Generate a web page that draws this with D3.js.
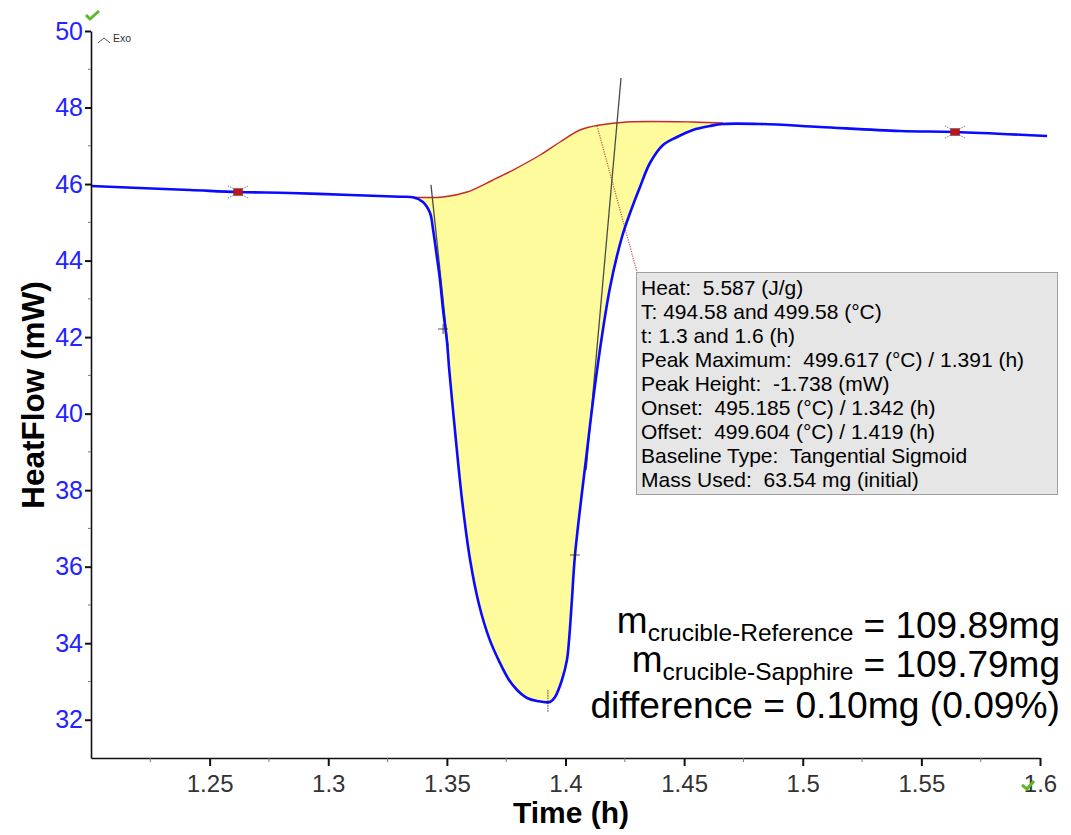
<!DOCTYPE html>
<html><head><meta charset="utf-8">
<script src="https://cdn.jsdelivr.net/npm/d3@7"></script>
<style>
html,body{margin:0;padding:0;background:#fff;}
svg{display:block;font-family:"Liberation Sans",Arial,sans-serif;}
</style></head>
<body>
<svg id="chart" width="1071" height="835"></svg>
<script>
// ---- data ----
const xTicks = [1.25, 1.3, 1.35, 1.4, 1.45, 1.5, 1.55, 1.6];
const yTicks = [32, 34, 36, 38, 40, 42, 44, 46, 48, 50];
const heatTime = [1.2000,1.2417,1.2620,1.2839,1.3092,1.3302,1.3357,1.3399,1.3429,1.3442,1.3458,1.3471,1.3484,1.3501,1.3510,1.3534,1.3564,1.3598,1.3636,1.3680,1.3724,1.3760,1.3796,1.3838,1.3880,1.3935,1.3956,1.3985,1.4006,1.4015,1.4027,1.4040,1.4086,1.4133,1.4188,1.4238,1.4272,1.4314,1.4356,1.4411,1.4470,1.4537,1.4609,1.4664,1.4820,1.5073,1.5410,1.5642,1.6030];
const heatFlow = [45.949,45.845,45.792,45.766,45.714,45.670,45.655,45.531,45.243,44.799,44.094,43.492,42.708,41.846,41.140,39.572,37.743,36.174,35.000,34.100,33.480,33.060,32.777,32.568,32.490,32.463,32.594,33.038,33.561,34.084,35.129,36.305,38.788,41.140,43.309,44.616,45.243,45.923,46.550,47.021,47.230,47.413,47.517,47.569,47.569,47.491,47.387,47.360,47.256];
const baseTime = [1.3357,1.3484,1.3585,1.3694,1.3779,1.3893,1.3977,1.4061,1.4145,1.4259,1.4537,1.4664];
const baseFlow = [45.655,45.662,45.792,46.106,46.367,46.759,47.099,47.413,47.543,47.622,47.622,47.596];
const tangentLeft = [[1.3433,45.98],[1.3505,41.75]];
const tangentRight = [[1.4234,48.77],[1.4087,38.53]];
const limitMarks = [[1.2620,45.792],[1.5642,47.360]];
const crossMarks = [[1.3484,42.212],[1.4040,36.305]];
const peakMark = [1.3926,32.46];
const leaderStart = [1.4133,47.52];
const boxLines = ["Heat:  5.587 (J/g)","T: 494.58 and 499.58 (°C)","t: 1.3 and 1.6 (h)","Peak Maximum:  499.617 (°C) / 1.391 (h)","Peak Height:  -1.738 (mW)","Onset:  495.185 (°C) / 1.342 (h)","Offset:  499.604 (°C) / 1.419 (h)","Baseline Type:  Tangential Sigmoid","Mass Used:  63.54 mg (initial)"];
const massLines = [["m","crucible-Reference"," = 109.89mg"],["m","crucible-Sapphire"," = 109.79mg"]];
const diffLine = "difference = 0.10mg (0.09%)";

// ---- scales ----
const svg = d3.select("#chart");
const x = d3.scaleLinear().domain([1.2,1.6]).range([91,1040]);
const y = d3.scaleLinear().domain([31,50]).range([758,31]);

const curve = heatTime.map((t,i)=>[t,heatFlow[i]]);
const base = baseTime.map((t,i)=>[t,baseFlow[i]]);
const line = d3.line().x(d=>x(d[0])).y(d=>y(d[1]));
const smooth = d3.line().x(d=>x(d[0])).y(d=>y(d[1])).curve(d3.curveCatmullRom.alpha(0.5));

// fill
const t0 = baseTime[0], t1 = baseTime[baseTime.length-1];
const sub = curve.filter(d=>d[0]>=t0-1e-9 && d[0]<=t1+1e-9);
const fillPath = smooth(sub) + "L" + smooth(base.slice().reverse()).slice(1) + "Z";
svg.append("path").attr("d",fillPath).attr("fill","#fdfb9b").attr("stroke","none");

// leader dotted line
svg.append("line").attr("x1",x(leaderStart[0])).attr("y1",y(leaderStart[1]))
  .attr("x2",637).attr("y2",272).attr("stroke","#b8583a").attr("stroke-width",1.3)
  .attr("stroke-dasharray","1.2,1.2").attr("opacity",0.9);

// baseline
svg.append("path").attr("d",smooth(base)).attr("fill","none").attr("stroke","#c42a2a").attr("stroke-width",1.4);

// tangents
[tangentLeft,tangentRight].forEach(tg=>{
  svg.append("path").attr("d",line(tg)).attr("fill","none").attr("stroke","#4a4a4a").attr("stroke-width",1.3);
});

// main curve
svg.append("path").attr("d",smooth(curve)).attr("fill","none").attr("stroke","#0a0aff").attr("stroke-width",2.6);

// cross marks
crossMarks.forEach(d=>{
  const cx=x(d[0]), cy=y(d[1]);
  svg.append("path").attr("d",`M${cx-5},${cy}H${cx+5}M${cx},${cy-5}V${cy+5}`).attr("stroke","#222").attr("stroke-width",0.8);
});
{
  const cx=x(peakMark[0]), cy=y(peakMark[1]);
  svg.append("line").attr("x1",cx).attr("x2",cx).attr("y1",cy-12).attr("y2",cy+10)
    .attr("stroke","#222").attr("stroke-width",0.9).attr("stroke-dasharray","1.5,1");
}

// limit marks
limitMarks.forEach(d=>{
  const cx=x(d[0]), cy=y(d[1]);
  const g=svg.append("g");
  g.append("path").attr("d",`M${cx-10},${cy-6}L${cx-4},${cy-3}M${cx+10},${cy-6}L${cx+4},${cy-3}M${cx-10},${cy+6}L${cx-4},${cy+3}M${cx+10},${cy+6}L${cx+4},${cy+3}`)
    .attr("stroke","#555").attr("stroke-width",0.9).attr("stroke-dasharray","1,1");
  g.append("rect").attr("x",cx-4.5).attr("y",cy-3.5).attr("width",9).attr("height",7)
    .attr("fill","#c0141a").attr("stroke","#333").attr("stroke-width",0.8).attr("stroke-dasharray","1,1");
});

// axes
const xAxis = d3.axisBottom(x).tickValues(xTicks).tickSize(8).tickSizeOuter(0).tickPadding(9)
  .tickFormat(d=>String(+d.toFixed(2)));
const gx = svg.append("g").attr("transform","translate(0,758)").call(xAxis);
gx.select(".domain").attr("stroke","#111").attr("stroke-width",1.6);
gx.selectAll(".tick line").attr("stroke","#111").attr("stroke-width",2);
gx.selectAll(".tick text").attr("fill","#333").attr("font-size",24).attr("font-family","Liberation Sans, Arial, sans-serif");
const xMinor = d3.range(1.225,1.6,0.05);
gx.selectAll(".minor").data(xMinor).enter().append("line")
  .attr("x1",d=>x(d)).attr("x2",d=>x(d)).attr("y1",0).attr("y2",4).attr("stroke","#777").attr("stroke-width",1);

const yAxis = d3.axisLeft(y).tickValues(yTicks).tickSize(6).tickSizeOuter(0).tickPadding(2).tickFormat(d3.format("d"));
const gy = svg.append("g").attr("transform","translate(91,0)").call(yAxis);
gy.select(".domain").attr("stroke","#111").attr("stroke-width",1.6);
gy.selectAll(".tick line").attr("stroke","#111").attr("stroke-width",2);
gy.selectAll(".tick text").attr("fill","#2323ff").attr("font-size",25).attr("font-family","Liberation Sans, Arial, sans-serif");
const yMinor = d3.range(33,50,2);
gy.selectAll(".minor").data(yMinor).enter().append("line")
  .attr("x1",-3).attr("x2",0).attr("y1",d=>y(d)).attr("y2",d=>y(d)).attr("stroke","#777").attr("stroke-width",1);

// axis titles
svg.append("text").attr("x",571).attr("y",823).attr("text-anchor","middle")
  .attr("font-weight","bold").attr("font-size",30).attr("fill","#000").text("Time (h)");
svg.append("text").attr("transform","translate(44,395) rotate(-90)").attr("text-anchor","middle")
  .attr("font-weight","bold").attr("font-size",31.5).attr("fill","#000").text("HeatFlow (mW)");

// Exo marker
svg.append("path").attr("d","M98,43L104,38L110,43").attr("fill","none").attr("stroke","#555").attr("stroke-width",1);
svg.append("text").attr("x",113).attr("y",42).attr("font-size",10.5).attr("fill","#333").text("Exo");

// green checks
svg.append("path").attr("d","M86,15L90,19L99,11").attr("fill","none").attr("stroke","#5cb82e").attr("stroke-width",3);
svg.append("path").attr("d","M1022,785L1027,789L1034,781").attr("fill","none").attr("stroke","#5cb82e").attr("stroke-width",3);

// annotation box
svg.append("rect").attr("x",636.5).attr("y",272.5).attr("width",421).attr("height",222)
  .attr("fill","#e6e6e6").attr("stroke","#a0a0a0").attr("stroke-width",1);
const bt = svg.append("text").attr("font-size",21).attr("fill","#000").style("white-space","pre");
boxLines.forEach((s,i)=>{
  bt.append("tspan").attr("x",641).attr("y",295+24*i).text(s);
});

// mass text
massLines.forEach((m,i)=>{
  const by = 638 + 39*i;
  const t = svg.append("text").attr("x",1060).attr("y",by).attr("text-anchor","end")
    .attr("font-size",37).attr("fill","#000").style("white-space","pre");
  t.append("tspan").attr("dy",-5).text(m[0]);
  t.append("tspan").attr("font-size",24.5).attr("dy",8).text(m[1]);
  t.append("tspan").attr("dy",-3).text(m[2]);
});
svg.append("text").attr("x",1060).attr("y",718).attr("text-anchor","end")
  .attr("font-size",37.2).attr("fill","#000").text(diffLine);
</script>
</body></html>
